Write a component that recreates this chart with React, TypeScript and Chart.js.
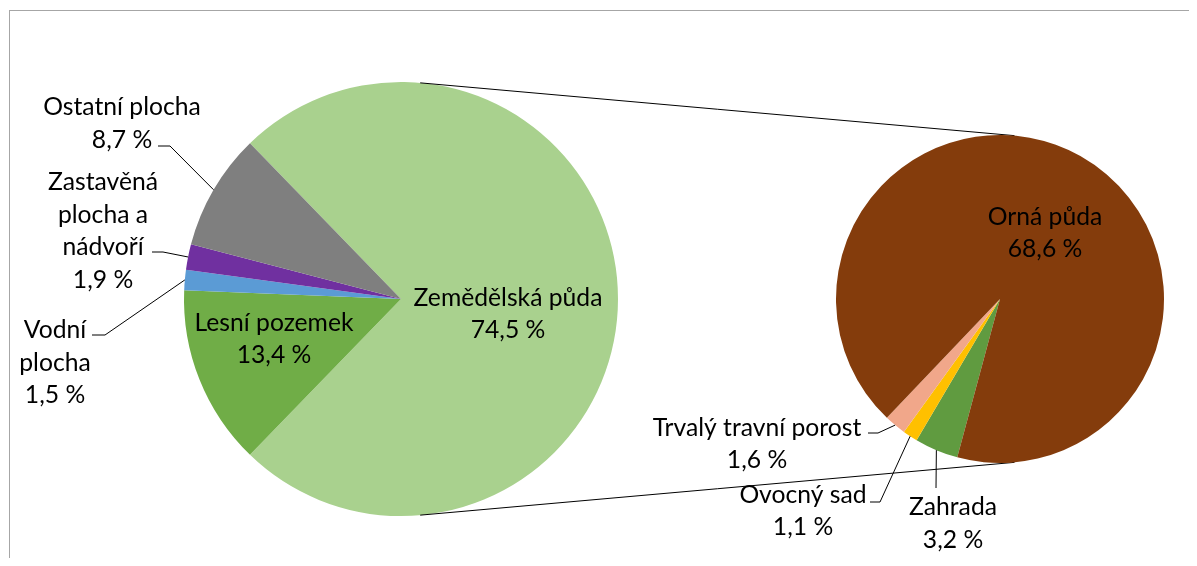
import React, { useEffect, useRef } from "react";
import { Chart, registerables } from "chart.js";

Chart.register(...registerables);

// ---- Data ----
const mainCategories = ["Zemědělská půda", "Lesní pozemek", "Vodní plocha", "Zastavěná plocha a nádvoří", "Ostatní plocha"];
const mainValues = [74.5, 13.4, 1.5, 1.9, 8.7];
const mainLabelLines = [["Zemědělská půda"], ["Lesní pozemek"], ["Vodní", "plocha"], ["Zastavěná", "plocha a", "nádvoří"], ["Ostatní plocha"]];

const subCategories = ["Zahrada", "Ovocný sad", "Trvalý travní porost", "Orná půda"];
const subValues = [3.2, 1.1, 1.6, 68.6];
const subLabelLines = [["Zahrada"], ["Ovocný sad"], ["Trvalý travní porost"], ["Orná půda"]];

// ---- Styles / layout ----
const mainColors = ["#a9d18e", "#70ad47", "#5b9bd5", "#7030a0", "#7f7f7f"];
const subColors = ["#609b40", "#ffc000", "#f1a78a", "#843c0c"];
const SUB_ROTATION = 195.1;

const W = 1181;
const H = 550;
const FONT = "24.7px Lato, 'Open Sans', sans-serif";
const LINE_H = 32.5;

type LabelPos = { dx: number; dy: number; elbow?: [number, number]; end?: [number, number] };

const mainLabelPos: LabelPos[] = [
  { dx: 107, dy: 15 },
  { dx: -127, dy: 40 },
  { dx: -346, dy: 64, elbow: [-296, 36], end: [-309, 36] },
  { dx: -298, dy: -68, elbow: [-238, -47], end: [-249, -47] },
  { dx: -279, dy: -175.5, elbow: [-231, -153], end: [-243, -153] },
];
const subLabelPos: LabelPos[] = [
  { dx: -47, dy: 224.5, elbow: [-64, 189], end: [-64, 189] },
  { dx: -197, dy: 212, elbow: [-120, 203], end: [-130, 203] },
  { dx: -243, dy: 145, elbow: [-122, 134], end: [-132, 134] },
  { dx: 45, dy: -66 },
];

const fmt = (v: number) => v.toFixed(1).replace(".", ",") + " %";

function makeLabelPlugin(lines: string[][], values: number[], pos: LabelPos[]) {
  return {
    id: "pieLabels",
    afterDatasetsDraw(chart: any) {
      const ctx = chart.ctx as CanvasRenderingContext2D;
      const meta = chart.getDatasetMeta(0);
      ctx.save();
      meta.data.forEach((arc: any, i: number) => {
        const p = arc.getProps(["x", "y", "outerRadius", "startAngle", "endAngle"], true);
        const L = pos[i];
        const textLines = [...lines[i], fmt(values[i])];
        if (L.elbow && L.end) {
          const mid = (p.startAngle + p.endAngle) / 2;
          const sx = p.x + p.outerRadius * Math.cos(mid);
          const sy = p.y + p.outerRadius * Math.sin(mid);
          ctx.strokeStyle = "#000";
          ctx.lineWidth = 1;
          ctx.beginPath();
          ctx.moveTo(sx, sy);
          ctx.lineTo(p.x + L.elbow[0], p.y + L.elbow[1]);
          ctx.lineTo(p.x + L.end[0], p.y + L.end[1]);
          ctx.stroke();
        }
        ctx.fillStyle = "#000";
        ctx.font = FONT;
        ctx.textAlign = "center";
        ctx.textBaseline = "middle";
        const n = textLines.length;
        textLines.forEach((t, k) => {
          const yy = p.y + L.dy + (k - (n - 1) / 2) * LINE_H;
          ctx.fillText(t, p.x + L.dx, yy);
        });
      });
      ctx.restore();
    },
  };
}

function makeConnectorPlugin(getMain: () => Chart | null) {
  return {
    id: "connectors",
    beforeDatasetsDraw(chart: any) {
      const main = getMain();
      if (!main) return;
      const a = (main.getDatasetMeta(0).data[0] as any).getProps(["x", "y", "outerRadius"], true);
      const b = (chart.getDatasetMeta(0).data[0] as any).getProps(["x", "y", "outerRadius"], true);
      const dx = b.x - a.x;
      const dy = b.y - a.y;
      const d = Math.hypot(dx, dy);
      const ux = dx / d, uy = dy / d;
      const px = uy, py = -ux;
      const s = (a.outerRadius - b.outerRadius) / d;
      const c = Math.sqrt(1 - s * s);
      const ctx = chart.ctx as CanvasRenderingContext2D;
      ctx.save();
      ctx.strokeStyle = "#000";
      ctx.lineWidth = 1;
      for (const sign of [1, -1]) {
        const nx = s * ux + sign * c * px;
        const ny = s * uy + sign * c * py;
        ctx.beginPath();
        ctx.moveTo(a.x + a.outerRadius * nx, a.y + a.outerRadius * ny);
        ctx.lineTo(b.x + b.outerRadius * nx, b.y + b.outerRadius * ny);
        ctx.stroke();
      }
      ctx.restore();
    },
  };
}

export default function App() {
  const mainRef = useRef<HTMLCanvasElement>(null);
  const subRef = useRef<HTMLCanvasElement>(null);

  useEffect(() => {
    if (!mainRef.current || !subRef.current) return;
    const mainSum = mainValues.reduce((s, v) => s + v, 0);
    const mainChart = new Chart(mainRef.current, {
      type: "pie",
      data: {
        labels: mainCategories,
        datasets: [{ data: mainValues, backgroundColor: mainColors, borderWidth: 0 }],
      },
      options: {
        responsive: false,
        animation: false,
        devicePixelRatio: 1,
        rotation: 90 - (mainValues[0] / mainSum) * 180,
        layout: { padding: { left: 176, right: W - 610, top: 74, bottom: H - 508 } },
        plugins: { legend: { display: false }, tooltip: { enabled: false } },
      },
      plugins: [makeLabelPlugin(mainLabelLines, mainValues, mainLabelPos)],
    });
    const subChart = new Chart(subRef.current, {
      type: "pie",
      data: {
        labels: subCategories,
        datasets: [{ data: subValues, backgroundColor: subColors, borderWidth: 0 }],
      },
      options: {
        responsive: false,
        animation: false,
        devicePixelRatio: 1,
        rotation: SUB_ROTATION,
        layout: { padding: { left: 828, right: W - 1156, top: 127, bottom: H - 455 } },
        plugins: { legend: { display: false }, tooltip: { enabled: false } },
      },
      plugins: [makeConnectorPlugin(() => mainChart), makeLabelPlugin(subLabelLines, subValues, subLabelPos)],
    });
    return () => {
      subChart.destroy();
      mainChart.destroy();
    };
  }, []);

  return (
    <div style={{ position: "relative", width: W, height: H, overflow: "hidden", background: "#fff" }}>
      <div
        style={{
          position: "absolute",
          left: 1,
          top: 2,
          width: 3000,
          height: 3000,
          borderLeft: "1px solid #a6a6a6",
          borderTop: "1px solid #a6a6a6",
        }}
      />
      <canvas ref={mainRef} width={W} height={H} style={{ position: "absolute", left: 0, top: 0 }} />
      <canvas ref={subRef} width={W} height={H} style={{ position: "absolute", left: 0, top: 0 }} />
    </div>
  );
}
